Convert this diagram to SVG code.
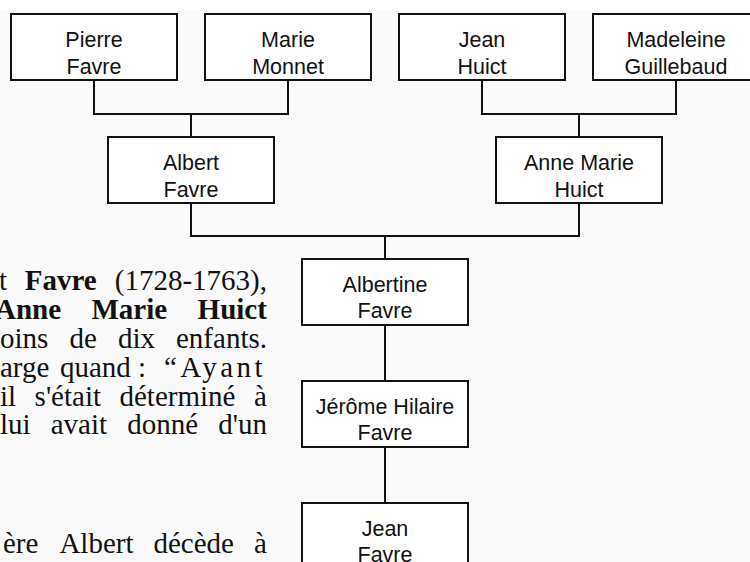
<svg xmlns="http://www.w3.org/2000/svg" width="750" height="562" viewBox="0 0 750 562">
<style>
.box{fill:#ffffff;stroke:#111;stroke-width:2}
.lbl{font-family:"Liberation Sans",Arial,sans-serif;font-size:21.5px;fill:#111;text-anchor:middle}
.con{fill:none;stroke:#111;stroke-width:2}
.para{font-family:"Liberation Serif","Times New Roman",serif;font-size:29px;fill:#111}
.b{font-weight:bold}
</style>
<rect x="0" y="0" width="750" height="562" fill="#ffffff"/>
<rect x="0" y="11" width="750" height="551" fill="#fafafa"/>
<g id="paragraph" class="para">
<text y="290"><tspan x="-1">t</tspan><tspan x="24.7" class="b">Favre</tspan><tspan x="114.8">(1728-1763),</tspan></text>
<text y="319" class="b"><tspan x="-5">Anne</tspan><tspan x="91.5">Marie</tspan><tspan x="197.6">Huict</tspan></text>
<text y="348"><tspan x="0">oins</tspan><tspan x="69.4">de</tspan><tspan x="117.9">dix</tspan><tspan x="176">enfants.</tspan></text>
<text y="377"><tspan x="0">arge</tspan><tspan x="60">quand</tspan><tspan x="138">:</tspan><tspan x="164" letter-spacing="3.5">“Ayant</tspan></text>
<text y="406"><tspan x="0">il</tspan><tspan x="34.6">s'était</tspan><tspan x="119.5">déterminé</tspan><tspan x="254">à</tspan></text>
<text y="434"><tspan x="0">lui</tspan><tspan x="50.7">avait</tspan><tspan x="127.2">donné</tspan><tspan x="218.2">d'un</tspan></text>
<text y="553"><tspan x="3">ère</tspan><tspan x="59.4">Albert</tspan><tspan x="153.5">décède</tspan><tspan x="254.1">à</tspan></text>
</g>
<g id="connectors" class="con">
<path d="M94 80V114H288V80M191 114V137"/>
<path d="M482 80V114H676V80M579 114V137"/>
<path d="M191 203V236H579V203M385 236V259"/>
<path d="M385 324V381"/>
<path d="M385 447V503"/>
</g>
<g id="pierre-favre"><rect class="box" x="11" y="14" width="166" height="66"/><text class="lbl" x="94" y="47">Pierre</text><text class="lbl" x="94" y="74">Favre</text></g>
<g id="marie-monnet"><rect class="box" x="205" y="14" width="166" height="66"/><text class="lbl" x="288" y="47">Marie</text><text class="lbl" x="288" y="74">Monnet</text></g>
<g id="jean-huict"><rect class="box" x="399" y="14" width="166" height="66"/><text class="lbl" x="482" y="47">Jean</text><text class="lbl" x="482" y="74">Huict</text></g>
<g id="madeleine-guillebaud"><rect class="box" x="593" y="14" width="166" height="66"/><text class="lbl" x="676" y="47">Madeleine</text><text class="lbl" x="676" y="74">Guillebaud</text></g>
<g id="albert-favre"><rect class="box" x="108" y="137" width="166" height="66"/><text class="lbl" x="191" y="170">Albert</text><text class="lbl" x="191" y="197">Favre</text></g>
<g id="anne-marie-huict"><rect class="box" x="496" y="137" width="166" height="66"/><text class="lbl" x="579" y="170">Anne Marie</text><text class="lbl" x="579" y="197">Huict</text></g>
<g id="albertine-favre"><rect class="box" x="302" y="259" width="166" height="66"/><text class="lbl" x="385" y="292">Albertine</text><text class="lbl" x="385" y="318">Favre</text></g>
<g id="jerome-hilaire-favre"><rect class="box" x="302" y="381" width="166" height="66"/><text class="lbl" x="385" y="414">Jérôme Hilaire</text><text class="lbl" x="385" y="440">Favre</text></g>
<g id="jean-favre"><rect class="box" x="302" y="503" width="166" height="66"/><text class="lbl" x="385" y="536">Jean</text><text class="lbl" x="385" y="562">Favre</text></g>
</svg>
